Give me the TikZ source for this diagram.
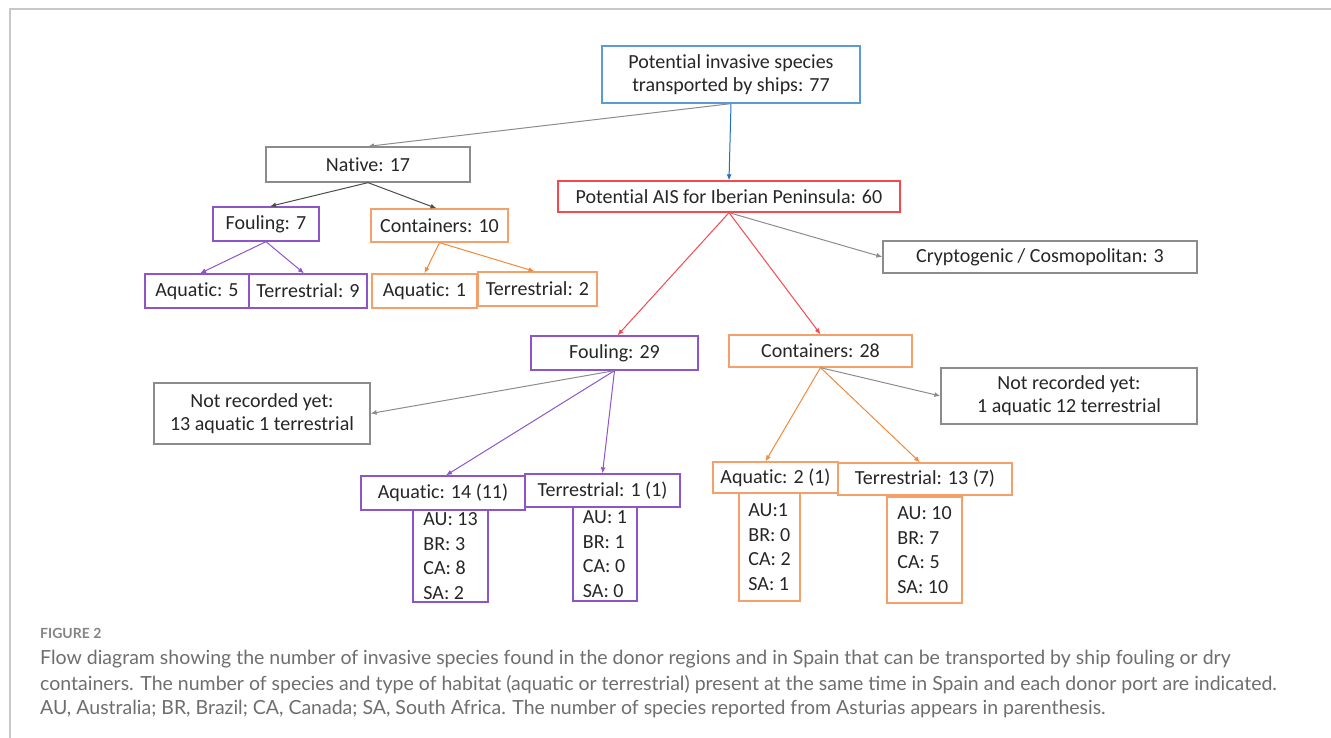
\documentclass[tikz,border=0pt]{standalone}
\usepackage{fontspec}
\setmainfont{Carlito}[Ligatures=NoCommon]
\newfontfamily\capfont{Lato}
\usetikzlibrary{arrows.meta}
\usepackage{xcolor}

\definecolor{boxblue}{HTML}{5B9BD5}
\definecolor{arrowblue}{HTML}{1F6FC4}
\definecolor{boxred}{HTML}{F5484E}
\definecolor{boxpurple}{HTML}{8E55C8}
\definecolor{boxorange}{HTML}{F4A06A}
\definecolor{arroworange}{HTML}{F08A3C}
\definecolor{boxgray}{HTML}{8C8C8C}
\definecolor{captiongray}{HTML}{6E6E6E}
\definecolor{framegray}{HTML}{C8C8C8}

\tikzset{
  box/.style={draw, line width=1.3pt, inner sep=0pt, align=center, text=black!85,
    font=\fontsize{20}{23}\selectfont},
  listbox/.style={box, align=left, font=\fontsize{20}{24.5}\selectfont},
  link/.style={line width=1pt, -{Latex[length=6pt,width=5pt]}},
  captext/.style={anchor=west, inner sep=0pt, text=captiongray,
    font=\capfont\fontsize{19.5}{22}\selectfont},
}

\begin{document}
\begin{tikzpicture}[x=1pt,y=-1pt]
    \useasboundingbox (0,0) rectangle (1331,738);
    \draw[framegray, line width=1.2pt] (10,738) -- (10,9) -- (1331,9);

    % top levels
    \node[box, draw=boxblue, minimum width=258, minimum height=57] (ships) at (731,74.5)
        {Potential invasive species\\transported by ships: 77};
    \node[box, draw=boxgray, minimum width=204, minimum height=35] (native) at (368,164.5) {Native: 17};
    \node[box, draw=boxred, minimum width=342, minimum height=31] (ais) at (729,196.5) {Potential AIS for Iberian Peninsula: 60};
    \node[box, draw=boxgray, minimum width=314, minimum height=32] (crypto) at (1040,257) {Cryptogenic / Cosmopolitan: 3};

    % native branch
    \node[box, draw=boxpurple, minimum width=106, minimum height=34] (foulnat) at (266,224) {Fouling: 7};
    \node[box, draw=boxorange, minimum width=137, minimum height=33] (contnat) at (439.5,225.5) {Containers: 10};
    \node[box, draw=boxpurple, minimum width=104, minimum height=34] (aqfn) at (197,291) {Aquatic: 5};
    \node[box, draw=boxpurple, minimum width=118, minimum height=34] (terfn) at (308,291) {Terrestrial: 9};
    \node[box, draw=boxorange, minimum width=105, minimum height=34] (aqcn) at (424.5,291) {Aquatic: 1};
    \node[box, draw=boxorange, minimum width=119, minimum height=34] (tercn) at (537.5,289) {Terrestrial: 2};

    % AIS branch
    \node[box, draw=boxpurple, minimum width=167, minimum height=34] (foulais) at (614.5,353) {Fouling: 29};
    \node[box, draw=boxorange, minimum width=183, minimum height=32] (contais) at (820.5,351) {Containers: 28};
    \node[box, draw=boxgray, minimum width=216, minimum height=61] (nrfoul) at (262,413.5)
        {Not recorded yet:\\13 aquatic 1 terrestrial};
    \node[box, draw=boxgray, minimum width=256, minimum height=56] (nrcont) at (1069,396)
        {Not recorded yet:\\1 aquatic 12 terrestrial};

    \node[box, draw=boxpurple, minimum width=164, minimum height=34] (aqfa) at (443,493) {Aquatic: 14 (11)};
    \node[box, draw=boxpurple, minimum width=155, minimum height=33] (terfa) at (602.5,490.5) {Terrestrial: 1 (1)};
    \node[box, draw=boxorange, minimum width=125, minimum height=31] (aqca) at (775.5,477.5) {Aquatic: 2 (1)};
    \node[box, draw=boxorange, minimum width=174, minimum height=32] (terca) at (925,479) {Terrestrial: 13 (7)};

    % donor ports
    \node[listbox, draw=boxpurple, minimum width=75, minimum height=92] (portsaqfa) at (450.5,556)
        {AU: 13\\BR: 3\\CA: 8\\SA: 2};
    \node[listbox, draw=boxpurple, minimum width=64, minimum height=94] (portsterfa) at (605,554)
        {AU: 1\\BR: 1\\CA: 0\\SA: 0};
    \node[listbox, draw=boxorange, minimum width=61, minimum height=108] (portsaqca) at (769.5,547)
        {AU:1\\BR: 0\\CA: 2\\SA: 1};
    \node[listbox, draw=boxorange, minimum width=75, minimum height=106] (portsterca) at (924.5,550)
        {AU: 10\\BR: 7\\CA: 5\\SA: 10};

    % connectors
    \draw[link, arrowblue] (ships.south) -- (ais.north);
    \draw[link, boxgray] (ships.south) -- (native.north);
    \draw[link, black!70] (native.south) -- ([xshift=4]foulnat.north);
    \draw[link, black!70] (native.south) -- ([xshift=-3]contnat.north);
    \draw[link, boxpurple] (foulnat.south) -- ([xshift=3]aqfn.north);
    \draw[link, boxpurple] (foulnat.south) -- ([xshift=-4]terfn.north);
    \draw[link, arroworange] (contnat.south) -- (aqcn.north);
    \draw[link, arroworange] (contnat.south) -- ([xshift=-3]tercn.north);
    \draw[link, boxred] (ais.south) -- ([xshift=3]foulais.north);
    \draw[link, boxred] (ais.south) -- (contais.north);
    \draw[link, boxgray] (ais.south) -- (crypto.west);
    \draw[link, boxgray] (foulais.south) -- (nrfoul.east);
    \draw[link, boxpurple] (foulais.south) -- ([xshift=3]aqfa.north);
    \draw[link, boxpurple] (foulais.south) -- (terfa.north);
    \draw[link, boxgray] (contais.south) -- (nrcont.west);
    \draw[link, arroworange] (contais.south) -- ([xshift=-10]aqca.north);
    \draw[link, arroworange] (contais.south) -- ([xshift=-5]terca.north);

    % caption
    \node[captext, font=\capfont\bfseries\fontsize{14}{16}\selectfont, text=captiongray!85] (figlabel) at (40,633) {FIGURE 2};
    \node[captext] (capa) at (40,659) {Flow diagram showing the number of invasive species found in the donor regions and in Spain that can be transported by ship fouling or dry};
    \node[captext] (capb) at (40,684.5) {containers. The number of species and type of habitat (aquatic or terrestrial) present at the same time in Spain and each donor port are indicated.};
    \node[captext] (capc) at (40,709) {AU, Australia; BR, Brazil; CA, Canada; SA, South Africa. The number of species reported from Asturias appears in parenthesis.};
\end{tikzpicture}
\end{document}
